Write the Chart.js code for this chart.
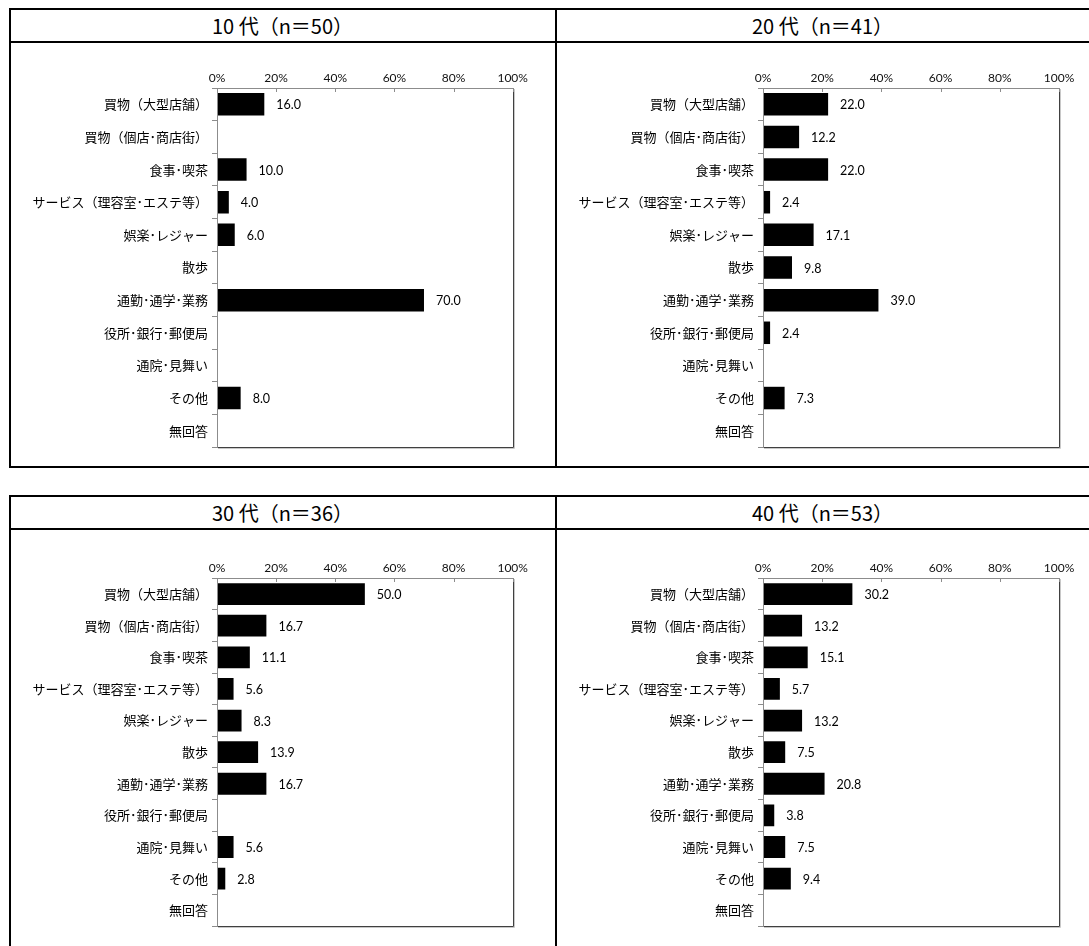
<!DOCTYPE html>
<html><head><meta charset="utf-8">
<script src="https://cdn.jsdelivr.net/npm/chart.js@4/dist/chart.umd.min.js"></script>
<style>
html,body{margin:0;padding:0;background:#fff;}
body{width:1089px;height:946px;position:relative;overflow:hidden;}
.ln{position:absolute;background:#000;}
.hd{position:absolute;text-align:center;font-family:"Noto Sans CJK JP","Noto Sans",sans-serif;font-size:20px;color:#000;white-space:pre;}
canvas{position:absolute;}
</style></head><body>
<script>
const categories = ["買物（大型店舗）","買物（個店･商店街）","食事･喫茶","サービス（理容室･エステ等）","娯楽･レジャー","散歩","通勤･通学･業務","役所･銀行･郵便局","通院･見舞い","その他","無回答"];
const titles = ["10 代（n＝50）","20 代（n＝41）","30 代（n＝36）","40 代（n＝53）"];
const values10 = [16.0, null, 10.0, 4.0, 6.0, null, 70.0, null, null, 8.0, null];
const values20 = [22.0, 12.2, 22.0, 2.4, 17.1, 9.8, 39.0, 2.4, null, 7.3, null];
const values30 = [50.0, 16.7, 11.1, 5.6, 8.3, 13.9, 16.7, null, 5.6, 2.8, null];
const values40 = [30.2, 13.2, 15.1, 5.7, 13.2, 7.5, 20.8, 3.8, 7.5, 9.4, null];
const tickLabels = ["0%","20%","40%","60%","80%","100%"];
const tickValues = [0,20,40,60,80,100];

function line(x,y,w,h){const d=document.createElement('div');d.className='ln';d.style.left=x+'px';d.style.top=y+'px';d.style.width=w+'px';d.style.height=h+'px';document.body.appendChild(d);}
line(9,8,1080,2); line(9,40.5,1080,2); line(9,466,1080,2);
line(9,8,2,460); line(554.5,8,2,460);
line(9,495,1080,2); line(9,527.5,1080,2);
line(9,495,2,451); line(554.5,495,2,451);

function header(text,x,y,w,h){const d=document.createElement('div');d.className='hd';d.textContent=text;d.style.left=x+'px';d.style.top=y+'px';d.style.width=w+'px';d.style.height=h+'px';d.style.lineHeight=h+'px';document.body.appendChild(d);}
header(titles[0],11,10,543,31);
header(titles[1],556.5,10,532,31);
header(titles[2],11,497,543,31);
header(titles[3],556.5,497,532,31);

const boxPlugin = {
  id:'box',
  afterDatasetsDraw(chart){
    const ctx=chart.ctx;
    const ds=chart.data.datasets[0];
    const meta=chart.getDatasetMeta(0);
    ctx.save();
    ctx.font='12.5px Lato, "Liberation Sans", sans-serif';
    ctx.fillStyle='#000';
    ctx.textAlign='left';ctx.textBaseline='middle';
    meta.data.forEach((bar,i)=>{
      const v=ds.data[i];
      if(v===null||v===undefined) return;
      ctx.fillText(v.toFixed(1), bar.x+12, bar.y+1);
    });
    ctx.restore();
  },
  afterDraw(chart){
    const ctx=chart.ctx, a=chart.chartArea, xs=chart.scales.x;
    ctx.save();
    ctx.lineWidth=1;
    ctx.strokeStyle='#c8c8c8';
    ctx.beginPath();
    ctx.moveTo(Math.round(a.right)+1.5, Math.round(a.top)+1);
    ctx.lineTo(Math.round(a.right)+1.5, Math.round(a.bottom)+1.5);
    ctx.lineTo(Math.round(a.left)+1, Math.round(a.bottom)+1.5);
    ctx.stroke();
    ctx.strokeStyle='#404040';
    ctx.beginPath();
    ctx.moveTo(Math.round(a.right)+0.5, Math.round(a.top));
    ctx.lineTo(Math.round(a.right)+0.5, Math.round(a.bottom)+0.5);
    ctx.lineTo(Math.round(a.left), Math.round(a.bottom)+0.5);
    ctx.stroke();
    ctx.strokeStyle='#8c8c8c';
    ctx.beginPath();
    ctx.moveTo(Math.round(a.right), Math.round(a.top)+0.5);
    ctx.lineTo(Math.round(a.left)+0.5, Math.round(a.top)+0.5);
    ctx.lineTo(Math.round(a.left)+0.5, Math.round(a.bottom)+1);
    ctx.stroke();
    tickValues.forEach(v=>{
      const x=Math.round(xs.getPixelForValue(v))+0.5;
      ctx.beginPath();ctx.moveTo(x,Math.round(a.top));ctx.lineTo(x,Math.round(a.top)+4);ctx.stroke();
    });
    ctx.restore();
  }
};

function makeChart(values,left,top,w,h,padRight,axisH,padBottom){
  const c=document.createElement('canvas');
  c.width=w;c.height=h;c.style.left=left+'px';c.style.top=top+'px';
  c.style.width=w+'px';c.style.height=h+'px';
  document.body.appendChild(c);
  new Chart(c,{
    type:'bar',
    data:{labels:categories,datasets:[{data:values,backgroundColor:'#000',borderWidth:0,barPercentage:0.69,categoryPercentage:1}]},
    plugins:[boxPlugin],
    options:{
      indexAxis:'y',responsive:false,animation:false,devicePixelRatio:1,
      layout:{padding:{left:0,top:0,right:padRight,bottom:padBottom}},
      plugins:{legend:{display:false},tooltip:{enabled:false}},
      scales:{
        x:{position:'top',min:0,max:100,
          afterFit(s){s.height=axisH;},
          afterBuildTicks(s){s.ticks=tickValues.map(v=>({value:v}));},
          ticks:{padding:3,color:'#111',font:{family:'Lato, "Liberation Sans", sans-serif',size:12},callback:(v,i)=>tickLabels[i]},
          grid:{display:true,drawOnChartArea:false,drawTicks:false},
          border:{display:false}},
        y:{
          afterFit(s){s.width=206;},
          ticks:{padding:4,color:'#000',autoSkip:false,font:{family:'"Noto Sans CJK JP", sans-serif',size:13}},
          grid:{display:true,drawOnChartArea:false,tickLength:5,color:'#8c8c8c',offset:true},
          border:{display:false}}
      }
    }
  });
}
makeChart(values10,11,43,543,422,41.3,45,18);
makeChart(values20,556.5,43,532.5,422,30,45,18);
makeChart(values30,11,530,543,416,41.3,48.3,20);
makeChart(values40,556.5,530,532.5,416,30,48.3,20);
</script>
</body></html>
